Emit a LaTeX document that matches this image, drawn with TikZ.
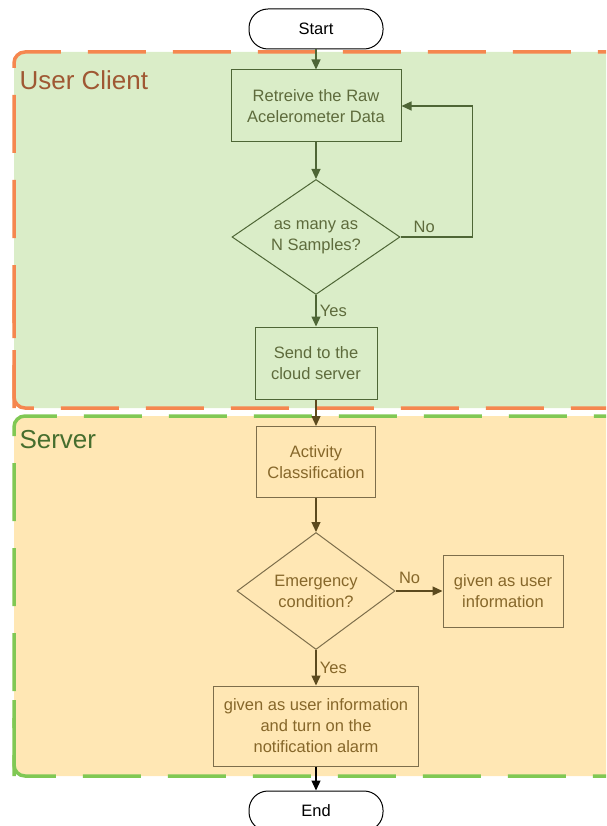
\documentclass[tikz,border=0pt]{standalone}
\usepackage{fontspec}
\setmainfont{Liberation Sans}
\usepackage{tikz}
\usetikzlibrary{shapes.geometric}
\usetikzlibrary{arrows.meta}
\definecolor{clientfill}{HTML}{DAEDC8}
\definecolor{clientedge}{HTML}{F5874F}
\definecolor{clientink}{HTML}{5E6B3C}
\definecolor{clientline}{HTML}{4E6636}
\definecolor{serverfill}{HTML}{FFE7B4}
\definecolor{serveredge}{HTML}{80C854}
\definecolor{serverink}{HTML}{86672A}
\definecolor{serverline}{HTML}{5C4A1E}
\tikzset{flowbox/.style={draw, rectangle, align=center, inner sep=0, line width=1pt,
    font=\fontsize{16.5}{21}\selectfont}}
\tikzset{decision/.style={draw, diamond, aspect=1.45, inner sep=0, align=center, line width=1pt,
    font=\fontsize{16.5}{21}\selectfont}}
\tikzset{terminal/.style={draw, rectangle, rounded corners=19pt, minimum width=134pt,
    minimum height=40pt, fill=white, line width=1pt, font=\fontsize{16.5}{21}\selectfont}}
\tikzset{lane/.style={line width=3.5pt, dash pattern=on 58pt off 27pt, rounded corners=11pt}}
\tikzset{tip/.style={-{Triangle[length=10pt,width=9pt]}}}
\tikzset{every edge/.style={draw, line width=1.2pt, tip}}

\begin{document}
\begin{tikzpicture}[x=1pt, y=-1pt]
  \useasboundingbox (0,0) rectangle (606,826);
  \clip (0,0) rectangle (606,826);

  % swim lanes
  \fill[clientfill, rounded corners=11pt] (14,52) rectangle (640,408);
  \draw[lane, clientedge] (14,408) -- (14,52) -- (640,52);
  \draw[lane, clientedge, dash phase=20pt] (14,300) |- (640,408);
  \fill[serverfill, rounded corners=11pt] (14,416) rectangle (640,776);
  \draw[lane, serveredge] (14,776) -- (14,416) -- (640,416);
  \draw[lane, serveredge, dash phase=30pt] (14,700) |- (640,776);
  \node[anchor=west, text=clientedge!65!black, font=\fontsize{26}{26}\selectfont]
    (clientlbl) at (16,80) {User Client};
  \node[anchor=west, text=serveredge!55!black, font=\fontsize{26}{26}\selectfont]
    (serverlbl) at (16,440) {Server};

  \node[terminal] (start) at (316,29) {Start};
  \node[terminal] (end) at (316,811) {End};

  \node[flowbox, draw=clientline, text=clientink, minimum width=170pt, minimum height=72pt]
    (read) at (316,106) {Retreive the Raw\\Acelerometer Data};
  \node[decision, draw=clientline, text=clientink, minimum width=168pt, minimum height=115pt]
    (check) at (316,237) {as many as\\N Samples?};
  \node[flowbox, draw=clientline, text=clientink, minimum width=122pt, minimum height=72pt]
    (send) at (316,363) {Send to the\\cloud server};

  \node[flowbox, draw=serverline!80, text=serverink, minimum width=119pt, minimum height=71pt]
    (classify) at (316,462) {Activity\\Classification};
  \node[decision, draw=serverline!80, text=serverink, minimum width=158pt, minimum height=117pt]
    (emergency) at (316,591) {Emergency\\condition?};
  \node[flowbox, draw=serverline!80, text=serverink, minimum width=120pt, minimum height=72pt]
    (inform) at (503,591) {given as user\\information};
  \node[flowbox, draw=serverline!80, text=serverink, minimum width=205pt, minimum height=80pt]
    (alarm) at (316,726) {given as user information\\and turn on the\\notification alarm};

  \draw[clientline] (start) edge (read);
  \draw[clientline] (read) edge (check);
  \draw[clientline] (check) edge node[right, text=clientink, font=\fontsize{16.5}{21}\selectfont] {Yes} (send);
  \draw[clientline, line width=1.2pt, tip] (check.east) -- ++(72,0)
    node[pos=0.33, above, text=clientink, font=\fontsize{16.5}{21}\selectfont] {No} |- (read.east);
  \draw[serverline] (send) edge (classify);
  \draw[serverline] (classify) edge (emergency);
  \draw[serverline] (emergency.east) edge node[pos=0.3, above=3pt, text=serverink, font=\fontsize{16.5}{21}\selectfont] {No} (inform.west);
  \draw[serverline] (emergency) edge node[right, text=serverink, font=\fontsize{16.5}{21}\selectfont] {Yes} (alarm);
  \draw[black] (alarm) edge (end);
\end{tikzpicture}
\end{document}
